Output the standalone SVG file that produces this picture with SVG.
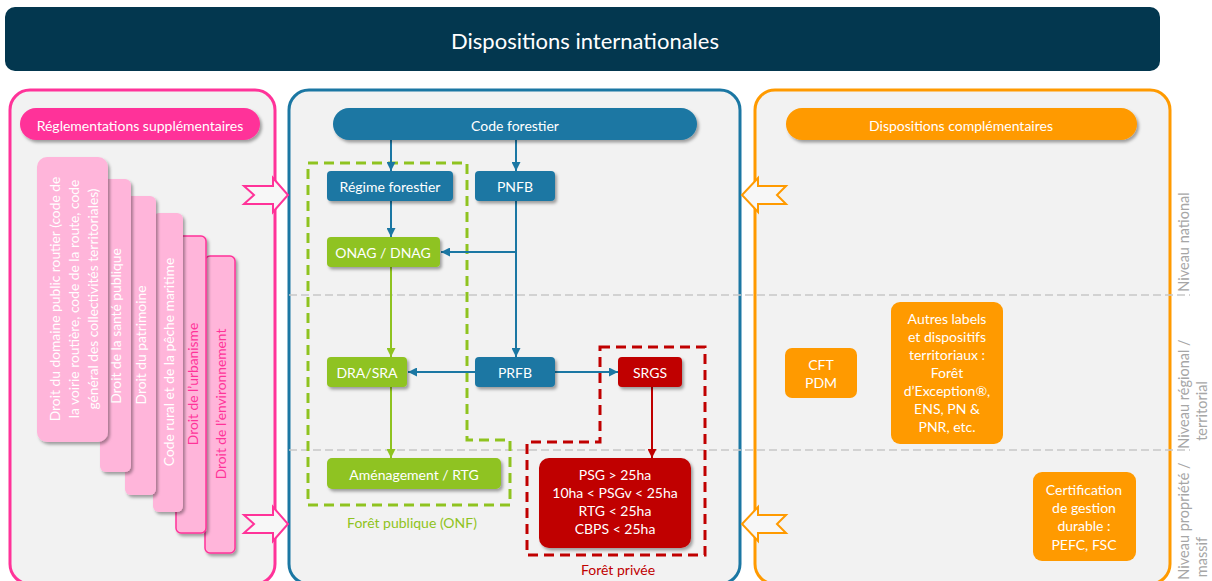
<svg xmlns="http://www.w3.org/2000/svg" width="1212" height="581" viewBox="0 0 1212 581">
<style>
text{font-family:Lato,"Open Sans","Liberation Sans",sans-serif;}
.w{fill:#fff;font-size:14px;text-anchor:middle;dominant-baseline:central;}
.card{fill:#FFB5DA;}
.cardb{fill:#FFB5DA;stroke:#FF3399;stroke-width:1.5;}
.ct{fill:#fff;font-size:13.8px;text-anchor:middle;dominant-baseline:central;}
.cp{fill:#FF3399;font-size:13.8px;text-anchor:middle;dominant-baseline:central;}
.blue{fill:#1B77A3;}
.green{fill:#8FC320;}
.red{fill:#C00000;}
.orange{fill:#FF9A00;}
.gl{fill:#A6A6A6;font-size:14.5px;text-anchor:middle;dominant-baseline:central;}
.lnb{stroke:#1B77A3;stroke-width:2;fill:none;}
.lng{stroke:#8FC320;stroke-width:2;fill:none;}
.lnr{stroke:#C00000;stroke-width:2;fill:none;}
</style>
<defs>
<filter id="sh" x="-20%" y="-20%" width="150%" height="150%">
<feDropShadow dx="2" dy="2.5" stdDeviation="1.5" flood-color="#000" flood-opacity="0.35"/>
</filter>
<marker id="ab" viewBox="0 0 10 10" refX="10" refY="5" markerWidth="4.5" markerHeight="4.5" orient="auto"><path d="M0,0 L10,5 L0,10 Z" fill="#1B77A3"/></marker>
<marker id="ag" viewBox="0 0 10 10" refX="10" refY="5" markerWidth="4.5" markerHeight="4.5" orient="auto"><path d="M0,0 L10,5 L0,10 Z" fill="#8FC320"/></marker>
<marker id="ar" viewBox="0 0 10 10" refX="10" refY="5" markerWidth="4.5" markerHeight="4.5" orient="auto"><path d="M0,0 L10,5 L0,10 Z" fill="#C00000"/></marker>
</defs>
<rect width="1212" height="581" fill="#fff"/>

<g id="banner">
<rect x="5" y="7" width="1155" height="64" rx="10" fill="#03374F"/>
<text x="585" y="40" class="w" style="font-size:22px">Dispositions internationales</text>
</g>

<g id="panels">
<rect x="10" y="90" width="265" height="494" rx="20" fill="#F2F2F2" stroke="#FF3399" stroke-width="3"/>
<rect x="289" y="90" width="451" height="494" rx="20" fill="#F2F2F2" stroke="#1B77A3" stroke-width="3"/>
<rect x="755" y="90" width="415" height="494" rx="20" fill="#F2F2F2" stroke="#FF9A00" stroke-width="3"/>
</g>

<g id="levels" stroke="#C8C8C8" stroke-width="1.5" stroke-dasharray="8 4">
<line x1="289" y1="295" x2="1190" y2="295"/>
<line x1="289" y1="450" x2="1190" y2="450"/>
</g>
<g id="level-labels">
<text class="gl" transform="translate(1183,242) rotate(-90)">Niveau national</text>
<text class="gl" transform="translate(1183,394) rotate(-90)">Niveau régional /</text>
<text class="gl" transform="translate(1201,411) rotate(-90)">territorial</text>
<text class="gl" transform="translate(1183,521) rotate(-90)">Niveau propriété /</text>
<text class="gl" transform="translate(1201,557) rotate(-90)">massif</text>
</g>

<g id="reglementations">
<rect x="20" y="108" width="240" height="32" rx="16" fill="#FF3399" filter="url(#sh)"/>
<text x="140" y="125" class="w">Réglementations supplémentaires</text>
</g>

<g id="card6"><rect x="205" y="256" width="30" height="297" rx="5" class="cardb" filter="url(#sh)"/>
<text class="cp" transform="translate(220,404) rotate(-90)">Droit de l’environnement</text></g>
<g id="card5"><rect x="176" y="236" width="30" height="297" rx="5" class="cardb" filter="url(#sh)"/>
<text class="cp" transform="translate(192,384) rotate(-90)">Droit de l’urbanisme</text></g>
<g id="card4"><rect x="153" y="213" width="30" height="299" rx="6" class="card" filter="url(#sh)"/>
<text class="ct" transform="translate(168,362) rotate(-90)">Code rural et de la pêche maritime</text></g>
<g id="card3"><rect x="125" y="196" width="31" height="299" rx="6" class="card" filter="url(#sh)"/>
<text class="ct" transform="translate(140,345) rotate(-90)">Droit du patrimoine</text></g>
<g id="card2"><rect x="100" y="179" width="31" height="293" rx="6" class="card" filter="url(#sh)"/>
<text class="ct" transform="translate(115,326) rotate(-90)">Droit de la santé publique</text></g>
<g id="card1"><rect x="37" y="157" width="71" height="285" rx="10" class="card" filter="url(#sh)"/>
<text class="ct" transform="translate(73,299) rotate(-90)"><tspan x="0" y="-19">Droit du domaine public routier (code de</tspan><tspan x="0" y="0">la voirie routière, code de la route, code</tspan><tspan x="0" y="19">général des collectivités territoriales)</tspan></text></g>

<g id="arrows-side" stroke-width="2" fill="#F7F7F7" stroke-linejoin="miter">
<polygon points="244,186 254,195 244,204 273,204 273,212 288,195 273,178 273,186" stroke="#FF3399"/>
<polygon points="244,515 254,524 244,533 273,533 273,541 288,524 273,507 273,515" stroke="#FF3399"/>
<polygon points="786,186 777,195 786,204 758,204 758,212 742,195 758,178 758,186" stroke="#FF9A00"/>
<polygon points="786,515 777,524 786,533 758,533 758,541 742,524 758,507 758,515" stroke="#FF9A00"/>
</g>

<g id="boundaries" fill="none" stroke-width="3" stroke-dasharray="10 6">
<path d="M308,163 H467 V440 H510 V505 H308 Z" stroke="#8FC320"/>
<path d="M600,347 H705 V555 H527 V442 H600 Z" stroke="#C00000"/>
</g>
<text x="412" y="522" style="fill:#8FC320;font-size:14px;text-anchor:middle;dominant-baseline:central">Forêt publique (ONF)</text>
<text x="618" y="569" style="fill:#C00000;font-size:14px;text-anchor:middle;dominant-baseline:central">Forêt privée</text>

<g id="connectors">
<line x1="391" y1="140" x2="391" y2="171" class="lnb" marker-end="url(#ab)"/>
<line x1="516" y1="140" x2="516" y2="171" class="lnb" marker-end="url(#ab)"/>
<line x1="391" y1="201" x2="391" y2="237" class="lnb" marker-end="url(#ab)"/>
<line x1="516" y1="201" x2="516" y2="357" class="lnb" marker-end="url(#ab)"/>
<line x1="516" y1="252" x2="441" y2="252" class="lnb" marker-end="url(#ab)"/>
<line x1="391" y1="267" x2="391" y2="357" class="lng" marker-end="url(#ag)"/>
<line x1="391" y1="387" x2="391" y2="458" class="lng" marker-end="url(#ag)"/>
<line x1="475" y1="372" x2="408" y2="372" class="lnb" marker-end="url(#ab)"/>
<line x1="555" y1="372" x2="618" y2="372" class="lnb" marker-end="url(#ab)"/>
<line x1="652" y1="387" x2="652" y2="458" class="lnr" marker-end="url(#ar)"/>
</g>

<g id="code-forestier"><rect x="333" y="108" width="364" height="32" rx="16" class="blue" filter="url(#sh)"/>
<text x="515" y="125" class="w">Code forestier</text></g>
<g id="regime"><rect x="327" y="171" width="126" height="30" rx="4" class="blue" filter="url(#sh)"/>
<text x="390" y="186" class="w">Régime forestier</text></g>
<g id="pnfb"><rect x="475" y="171" width="80" height="30" rx="4" class="blue" filter="url(#sh)"/>
<text x="515" y="186" class="w">PNFB</text></g>
<g id="onag"><rect x="327" y="237" width="113" height="30" rx="4" class="green" filter="url(#sh)"/>
<text x="383" y="252" class="w">ONAG / DNAG</text></g>
<g id="dra"><rect x="327" y="357" width="80" height="30" rx="4" class="green" filter="url(#sh)"/>
<text x="367" y="372" class="w">DRA/SRA</text></g>
<g id="prfb"><rect x="475" y="357" width="80" height="30" rx="4" class="blue" filter="url(#sh)"/>
<text x="515" y="372" class="w">PRFB</text></g>
<g id="srgs"><rect x="618" y="357" width="64" height="30" rx="4" class="red" filter="url(#sh)"/>
<text x="650" y="372" class="w">SRGS</text></g>
<g id="amenagement"><rect x="327" y="458" width="174" height="31" rx="5" class="green" filter="url(#sh)"/>
<text x="414" y="474" class="w">Aménagement / RTG</text></g>
<g id="psg"><rect x="539" y="458" width="152" height="90" rx="10" class="red" filter="url(#sh)"/>
<text class="w"><tspan x="615" y="474">PSG &gt; 25ha</tspan><tspan x="615" y="492">10ha &lt; PSGv &lt; 25ha</tspan><tspan x="615" y="510">RTG &lt; 25ha</tspan><tspan x="615" y="528">CBPS &lt; 25ha</tspan></text></g>

<g id="dispositions-compl"><rect x="786" y="108" width="351" height="32" rx="16" class="orange" filter="url(#sh)"/>
<text x="961" y="125" class="w">Dispositions complémentaires</text></g>
<g id="cft"><rect x="785" y="348" width="72" height="50" rx="7" class="orange"/>
<text class="w"><tspan x="821" y="364">CFT</tspan><tspan x="821" y="382">PDM</tspan></text></g>
<g id="autres"><rect x="891" y="302" width="112" height="142" rx="9" class="orange"/>
<text class="w"><tspan x="947" y="318">Autres labels</tspan><tspan x="947" y="336">et dispositifs</tspan><tspan x="947" y="354">territoriaux :</tspan><tspan x="947" y="372">Forêt</tspan><tspan x="947" y="390">d’Exception®,</tspan><tspan x="947" y="408">ENS, PN &amp;</tspan><tspan x="947" y="426">PNR, etc.</tspan></text></g>
<g id="certification"><rect x="1033" y="472" width="103" height="89" rx="9" class="orange"/>
<text class="w"><tspan x="1084" y="489">Certification</tspan><tspan x="1084" y="507">de gestion</tspan><tspan x="1084" y="525">durable :</tspan><tspan x="1084" y="544">PEFC, FSC</tspan></text></g>
</svg>
